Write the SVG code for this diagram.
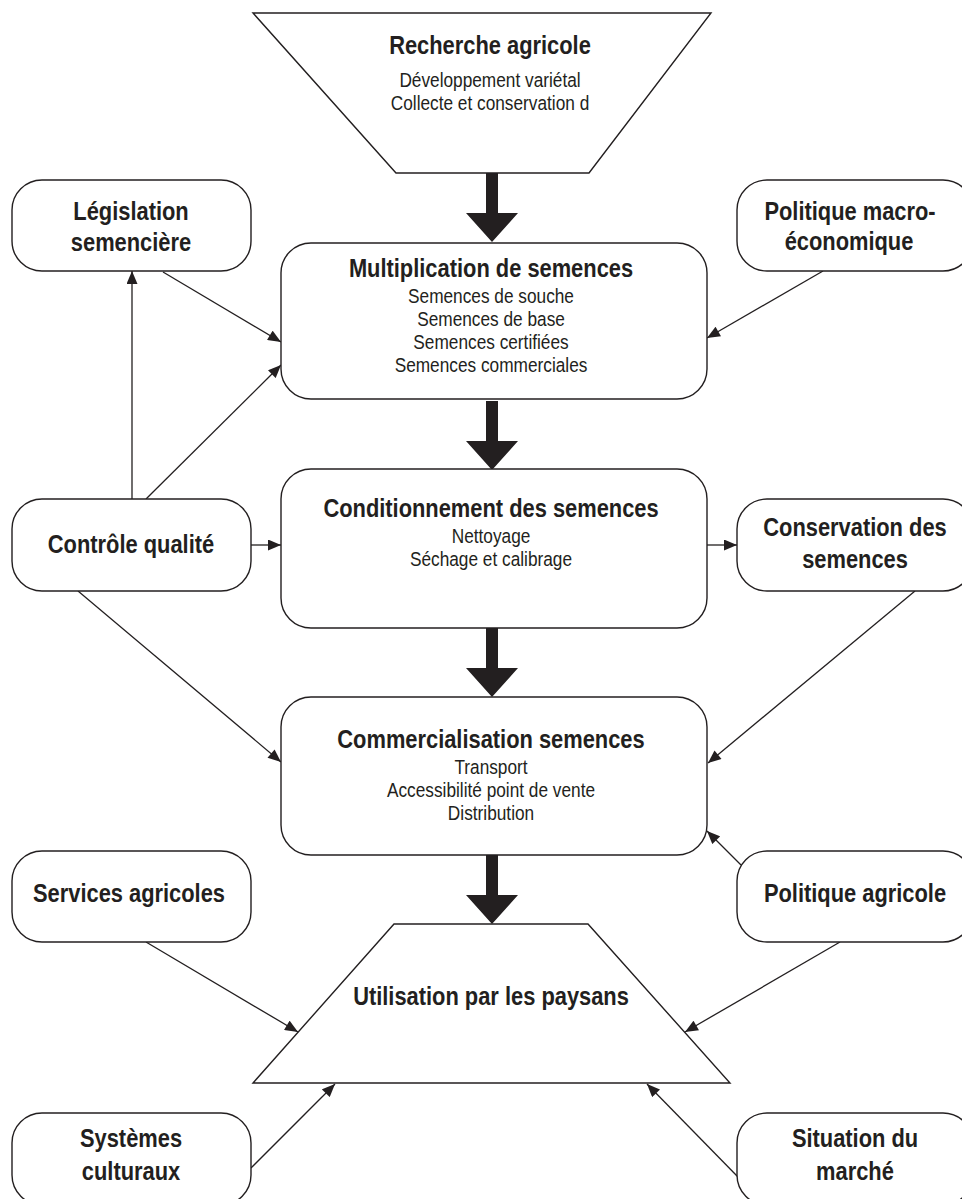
<svg xmlns="http://www.w3.org/2000/svg" width="962" height="1199" viewBox="0 0 962 1199">
<style>
.shape{fill:#ffffff;stroke:#231f20;stroke-width:1.4}
.bold{fill:#231f20}
.line{stroke:#231f20;stroke-width:1.3;fill:none;marker-end:url(#ah)}
text{font-family:"Liberation Sans",Arial,sans-serif;fill:#231f20;text-anchor:middle}
.t{font-size:25px;font-weight:bold}
.s{font-size:19.5px}
</style>
<defs>
<marker id="ah" markerUnits="userSpaceOnUse" markerWidth="14" markerHeight="11" refX="13" refY="5.5" orient="auto" viewBox="0 0 13 11">
<path d="M0,0 L13,5.5 L0,11 z" fill="#231f20"/>
</marker>
<path id="barrow" d="M-6,0 H6 V40 H26 L0,69 L-26,40 H-6 Z"/>
</defs>
<rect width="962" height="1199" fill="#ffffff"/>

<g id="connectors">
<use href="#barrow" class="bold" transform="translate(492 173)"/>
<use href="#barrow" class="bold" transform="translate(492 401)"/>
<use href="#barrow" class="bold" transform="translate(492 628)"/>
<use href="#barrow" class="bold" transform="translate(492 855)"/>
<line class="line" x1="163" y1="272" x2="281" y2="342"/>
<line class="line" x1="132" y1="499" x2="132" y2="271"/>
<line class="line" x1="146" y1="499" x2="281" y2="365"/>
<line class="line" x1="823" y1="271" x2="707" y2="338"/>
<line class="line" x1="251" y1="545" x2="281" y2="545"/>
<line class="line" x1="707" y1="545" x2="737" y2="545"/>
<line class="line" x1="78" y1="591" x2="281" y2="762"/>
<line class="line" x1="915" y1="591" x2="708" y2="763"/>
<line class="line" x1="741" y1="865" x2="707" y2="831"/>
<line class="line" x1="146" y1="942" x2="298" y2="1032"/>
<line class="line" x1="840" y1="942" x2="685" y2="1032"/>
<line class="line" x1="251" y1="1168" x2="335" y2="1084"/>
<line class="line" x1="738" y1="1177" x2="647" y2="1084"/>
</g>

<g id="recherche">
<polygon class="shape" points="253,13 711,13 589,173 396,173"/>
<text class="t" transform="translate(490 54) scale(0.875 1)">Recherche agricole</text>
<text class="s" transform="translate(490 87) scale(0.885 1)">Développement variétal</text>
<text class="s" transform="translate(490 110) scale(0.885 1)">Collecte et conservation d</text>
</g>

<g id="multiplication">
<rect class="shape" x="281" y="243" width="426" height="156" rx="30"/>
<text class="t" transform="translate(491 277) scale(0.875 1)">Multiplication de semences</text>
<text class="s" transform="translate(491 303) scale(0.885 1)">Semences de souche</text>
<text class="s" transform="translate(491 326) scale(0.885 1)">Semences de base</text>
<text class="s" transform="translate(491 349) scale(0.885 1)">Semences certifiées</text>
<text class="s" transform="translate(491 372) scale(0.885 1)">Semences commerciales</text>
</g>

<g id="conditionnement">
<rect class="shape" x="281" y="469" width="426" height="159" rx="30"/>
<text class="t" transform="translate(491 517) scale(0.875 1)">Conditionnement des semences</text>
<text class="s" transform="translate(491 543) scale(0.885 1)">Nettoyage</text>
<text class="s" transform="translate(491 566) scale(0.885 1)">Séchage et calibrage</text>
</g>

<g id="commercialisation">
<rect class="shape" x="281" y="697" width="426" height="158" rx="30"/>
<text class="t" transform="translate(491 748) scale(0.875 1)">Commercialisation semences</text>
<text class="s" transform="translate(491 774) scale(0.885 1)">Transport</text>
<text class="s" transform="translate(491 797) scale(0.885 1)">Accessibilité point de vente</text>
<text class="s" transform="translate(491 820) scale(0.885 1)">Distribution</text>
</g>

<g id="utilisation">
<polygon class="shape" points="394,924 588,924 730,1083 253,1083"/>
<text class="t" transform="translate(491 1005) scale(0.875 1)">Utilisation par les paysans</text>
</g>

<g id="legislation">
<rect class="shape" x="12" y="180" width="239" height="91" rx="30"/>
<text class="t" transform="translate(131 220) scale(0.875 1)">Législation</text>
<text class="t" transform="translate(131 251) scale(0.875 1)">semencière</text>
</g>

<g id="politique-macro">
<rect class="shape" x="737" y="180" width="236" height="91" rx="30"/>
<text class="t" transform="translate(850 220) scale(0.875 1)">Politique macro-</text>
<text class="t" transform="translate(849 250) scale(0.875 1)">économique</text>
</g>

<g id="controle">
<rect class="shape" x="12" y="499" width="239" height="92" rx="30"/>
<text class="t" transform="translate(131 553) scale(0.875 1)">Contrôle qualité</text>
</g>

<g id="conservation">
<rect class="shape" x="737" y="499" width="236" height="92" rx="30"/>
<text class="t" transform="translate(855 536) scale(0.875 1)">Conservation des</text>
<text class="t" transform="translate(855 568) scale(0.875 1)">semences</text>
</g>

<g id="services">
<rect class="shape" x="12" y="851" width="239" height="91" rx="30"/>
<text class="t" transform="translate(129 902) scale(0.875 1)">Services agricoles</text>
</g>

<g id="politique-agricole">
<rect class="shape" x="737" y="851" width="236" height="91" rx="30"/>
<text class="t" transform="translate(855 902) scale(0.875 1)">Politique agricole</text>
</g>

<g id="systemes">
<rect class="shape" x="12" y="1113" width="239" height="92" rx="30"/>
<text class="t" transform="translate(131 1147) scale(0.875 1)">Systèmes</text>
<text class="t" transform="translate(131 1180) scale(0.875 1)">culturaux</text>
</g>

<g id="situation">
<rect class="shape" x="737" y="1113" width="236" height="92" rx="30"/>
<text class="t" transform="translate(855 1147) scale(0.875 1)">Situation du</text>
<text class="t" transform="translate(855 1180) scale(0.875 1)">marché</text>
</g>
</svg>
